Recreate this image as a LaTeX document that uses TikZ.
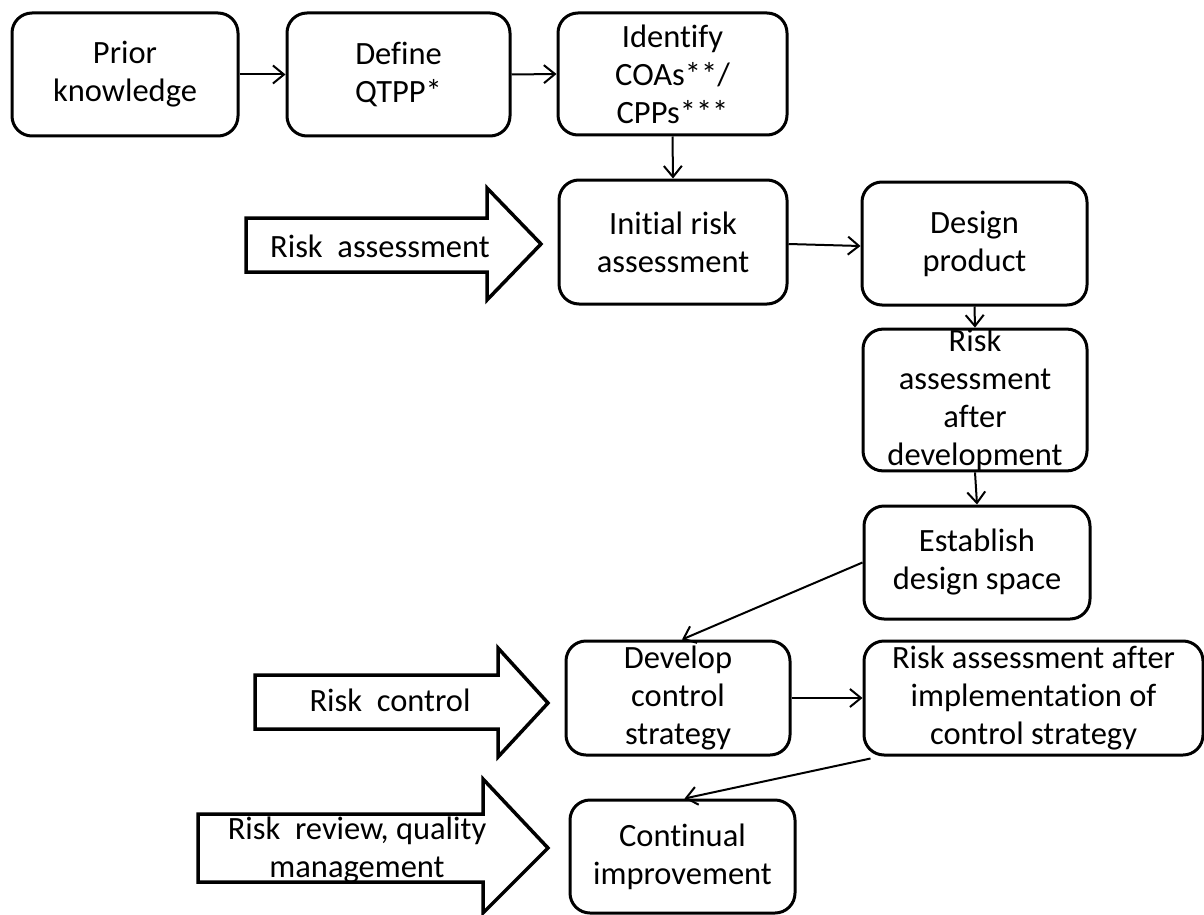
\documentclass[tikz,border=0pt]{standalone}
\usepackage{fontspec}
\setmainfont{Carlito}[Ligatures=NoCommon]
\usetikzlibrary{arrows.meta}
\begin{document}
\begin{tikzpicture}[x=1pt,y=-1pt,
  txt/.style={font=\fontsize{32.5}{38}\selectfont},
  box/.style={txt,draw,line width=3pt,rounded corners=20pt,align=center,inner sep=0pt},
  conn/.style={line width=2pt,-{Straight Barb[length=11pt,width=18pt,line width=2pt]}},
  bigarrow/.style={draw,line width=3.5pt,fill=white,line join=miter},
  lbl/.style={txt,inner sep=0pt,align=center}]
\useasboundingbox (0,0) rectangle (1204,915);

% boxes
\node[box,minimum width=226pt,minimum height=123pt] (prior) at (125,74.5) {Prior\\knowledge};
\node[box,minimum width=223pt,minimum height=123pt] (define) at (398.5,74.5) {Define\\QTPP*};
\node[box,minimum width=229pt,minimum height=122pt] (identify) at (672.5,74) {Identify\\COAs**/\\CPPs***};
\node[box,minimum width=228pt,minimum height=124pt] (initial) at (673,242) {Initial risk\\assessment};
\node[box,minimum width=225pt,minimum height=123pt] (design) at (974.5,243.5) {Design\\product};
\node[box,minimum width=224pt,minimum height=136pt] (riskdev) at (975,400) {Risk\\assessment\\after\\development};
\node[box,minimum width=226pt,minimum height=113pt] (establish) at (977,562.5) {Establish\\design space};
\node[box,minimum width=224pt,minimum height=114pt] (develop) at (678,698) {Develop\\control\\strategy};
\node[box,minimum width=339pt,minimum height=114pt] (riskimpl) at (1033.5,698) {Risk assessment after\\implementation of\\control strategy};
\node[box,minimum width=225pt,minimum height=113pt] (continual) at (682.5,856.5) {Continual\\improvement};

% big block arrows
\draw[bigarrow] (246,218) -- (487,218) -- (487,188) -- (541,244) -- (487,300) -- (487,272) -- (246,272) -- cycle;
\draw[bigarrow] (255,675) -- (498,675) -- (498,648) -- (548,703) -- (498,757) -- (498,729) -- (255,729) -- cycle;
\draw[bigarrow] (198,814) -- (483,814) -- (483,779) -- (548,848) -- (483,913) -- (483,882) -- (198,882) -- cycle;

\node[lbl,anchor=base] (lassess) at (380,257) {Risk\ \ assessment};
\node[lbl,anchor=base] (lcontrol) at (390,711) {Risk\ \ control};
\node[lbl] (lreview) at (357,849.5) {Risk\ \ review, quality\\management};

% connectors
\draw[conn] (prior.east) -- (define.west);
\draw[conn] (define.east) -- (identify.west);
\draw[conn] (identify.south) -- (initial.north);
\draw[conn] ([yshift=-2pt]initial.east) -- ([yshift=-2.5pt]design.west);
\draw[conn] (design.south) -- (riskdev.north);
\draw[conn] (riskdev.south) -- (establish.north);
\draw[conn] (establish.west) -- ([xshift=4pt]develop.north);
\draw[conn] (develop.east) -- (riskimpl.west);
\draw[conn] ([xshift=8pt,yshift=-2pt]riskimpl.south west) -- ([xshift=2pt]continual.north);
\end{tikzpicture}
\end{document}
